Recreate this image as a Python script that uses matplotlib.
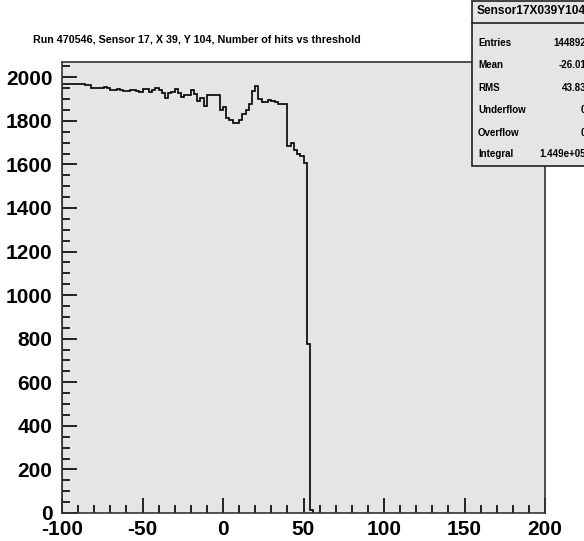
import numpy as np
import matplotlib.pyplot as plt
from matplotlib.patches import Rectangle

plt.rcParams['font.family'] = ['Liberation Sans', 'DejaVu Sans']
plt.rcParams['font.weight'] = 'bold'
plt.rcParams['axes.unicode_minus'] = False

#_______________________________________________________
# threshold scan data (bin width 2, starting at -100)

bin_start = -100
bin_width = 2
hits = [1971, 1971, 1968, 1968, 1967, 1968, 1970, 1965, 1965, 1952,
        1952, 1952, 1951, 1955, 1949, 1941, 1942, 1944, 1940, 1939,
        1935, 1941, 1940, 1937, 1932, 1946, 1944, 1934, 1943, 1952,
        1941, 1928, 1907, 1926, 1932, 1944, 1929, 1911, 1920, 1917,
        1940, 1922, 1892, 1907, 1869, 1917, 1919, 1919, 1919, 1850,
        1862, 1813, 1804, 1792, 1792, 1806, 1832, 1850, 1877, 1937,
        1962, 1902, 1885, 1887, 1897, 1890, 1887, 1875, 1875, 1878,
        1685, 1700, 1665, 1650, 1640, 1605, 775, 12]

title = "Run 470546, Sensor 17, X 39, Y 104, Number of hits vs threshold"
stats_name = "Sensor17X039Y104"
stats_labels = ["Entries", "Mean", "RMS", "Underflow", "Overflow", "Integral"]
stats_values = ["144892", "-26.01", "43.83", "0", "0", "1.449e+05"]

edges = bin_start + bin_width * np.arange(len(hits) + 1)

W, H = 584, 541
fig = plt.figure(figsize=(W / 100, H / 100), dpi=100)
fig.patch.set_facecolor('white')

# frame position in pixels
x0, x1, ytop, ybot = 62, 545, 62, 513
ax = fig.add_axes([x0 / W, 1 - ybot / H, (x1 - x0) / W, (ybot - ytop) / H])
ax.set_facecolor('#e5e5e5')

ax.stairs(hits, edges, baseline=0, color='black', lw=1.2)

ax.set_xlim(-100, 200)
ax.set_ylim(0, 2070)
ax.set_xticks(np.arange(-100, 201, 50))
ax.set_xticks(np.arange(-100, 201, 10), minor=True)
ax.set_yticks(np.arange(0, 2001, 200))
ax.set_yticks(np.arange(0, 2051, 50), minor=True)

ax.tick_params(which='both', direction='in', top=False, right=False, width=1.2)
ax.tick_params(axis='x', which='major', length=11, pad=5, labelsize=15)
ax.tick_params(axis='x', which='minor', length=5.5)
ax.tick_params(axis='y', which='major', length=11, pad=7, labelsize=15)
ax.tick_params(axis='y', which='minor', length=5.5)
for s in ax.spines.values():
    s.set_linewidth(1.2)
    s.set_color('#333333')

fig.text(33 / W, 1 - 40 / H, title, fontsize=7.75, fontweight='bold', va='center', ha='left')

# stats box in the upper right corner
box = Rectangle((472 / W, 1 - 166 / H), 130 / W, 165 / H, transform=fig.transFigure,
                facecolor='#e5e5e5', edgecolor='#222222', lw=1.2, zorder=5)
fig.add_artist(box)
fig.add_artist(plt.Line2D([472 / W, 1], [1 - 23 / H] * 2, transform=fig.transFigure,
                          color='#222222', lw=1.2, zorder=6))
fig.text(477 / W, 1 - 11 / H, stats_name, fontsize=8.6, fontweight='bold', va='center', zorder=7)
rows_y = [43, 65, 88, 110, 133, 154]
for lab, val, yy in zip(stats_labels, stats_values, rows_y):
    fig.text(478 / W, 1 - yy / H, lab, fontsize=7, fontweight='bold', va='center', zorder=7)
    fig.text(586 / W, 1 - yy / H, val, fontsize=7, fontweight='bold', va='center', ha='right', zorder=7)

fig.savefig('out.png', dpi=100)
